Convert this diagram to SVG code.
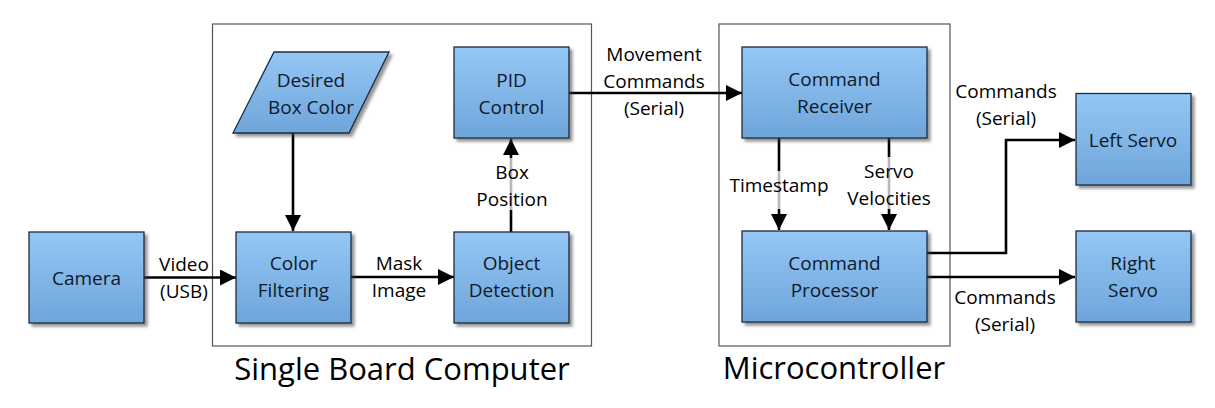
<svg xmlns="http://www.w3.org/2000/svg" width="1215" height="408" viewBox="0 0 1215 408">
<defs>
<linearGradient id="g" x1="0" y1="0" x2="0" y2="1">
<stop offset="0" stop-color="#95c7f5"/>
<stop offset="1" stop-color="#6ea5da"/>
</linearGradient>
<filter id="sh" x="-10%" y="-10%" width="130%" height="130%">
<feDropShadow dx="3" dy="3" stdDeviation="1.5" flood-color="#404040" flood-opacity="0.55"/>
</filter>
<marker id="ah" markerUnits="userSpaceOnUse" markerWidth="17" markerHeight="17" refX="16" refY="8" orient="auto" viewBox="0 0 17 17">
<path d="M0,0 L16,8 L0,16 z" fill="#000"/>
</marker>
<style>
.node{fill:url(#g);stroke:#1b2b40;stroke-width:1.3;filter:url(#sh)}
.frame{fill:none;stroke:#555;stroke-width:1.2}
.conn{fill:none;stroke:#000;stroke-width:2.6;marker-end:url(#ah)}
.t{font-family:"Open Sans","Noto Sans","Liberation Sans",sans-serif;font-size:19px;fill:#0d1a2b;text-anchor:middle}
.l{font-family:"Open Sans","Noto Sans","Liberation Sans",sans-serif;font-size:19px;fill:#000;text-anchor:middle}
.big{font-family:"Open Sans","Noto Sans","Liberation Sans",sans-serif;font-size:31px;fill:#000;text-anchor:middle}
.bg{fill:#fff;fill-opacity:0.72}
</style>
</defs>
<rect width="1215" height="408" fill="#fff"/>

<g id="frame-sbc">
<rect class="frame" x="212.5" y="24" width="379" height="322"/>
<text class="big" x="402" y="380">Single Board Computer</text>
</g>
<g id="frame-mcu">
<rect class="frame" x="719" y="24" width="231" height="322"/>
<text class="big" x="834" y="379">Microcontroller</text>
</g>

<g id="connectors">
<line class="conn" x1="144" y1="277.5" x2="236" y2="277.5"/>
<line class="conn" x1="293" y1="133" x2="293" y2="231"/>
<line class="conn" x1="351" y1="277" x2="454" y2="277"/>
<line class="conn" x1="511" y1="232" x2="511" y2="139"/>
<line class="conn" x1="569" y1="93" x2="742" y2="93"/>
<line class="conn" x1="779" y1="138" x2="779" y2="230"/>
<line class="conn" x1="889" y1="138" x2="889" y2="230"/>
<polyline class="conn" points="927,253 1006,253 1006,140 1075,140"/>
<line class="conn" x1="927" y1="277" x2="1075" y2="277"/>
</g>

<g id="connector-labels">
<text class="l" x="184" y="271">Video</text>
<text class="l" x="184" y="298">(USB)</text>
<text class="l" x="399" y="270">Mask</text>
<text class="l" x="399" y="297">Image</text>
<rect class="bg" x="480" y="158" width="64" height="52"/>
<text class="l" x="512" y="179">Box</text>
<text class="l" x="512" y="206">Position</text>
<text class="l" x="654" y="61">Movement</text>
<text class="l" x="654" y="88">Commands</text>
<text class="l" x="654" y="115">(Serial)</text>
<rect class="bg" x="733" y="171" width="92" height="38"/>
<text class="l" x="779" y="192">Timestamp</text>
<rect class="bg" x="838" y="157" width="102" height="52"/>
<text class="l" x="889" y="178">Servo</text>
<text class="l" x="889" y="205">Velocities</text>
<text class="l" x="1006" y="98">Commands</text>
<text class="l" x="1006" y="125">(Serial)</text>
<text class="l" x="1005" y="304">Commands</text>
<text class="l" x="1005" y="331">(Serial)</text>
</g>

<g id="camera">
<rect class="node" x="29" y="232" width="115" height="91"/>
<text class="t" x="86.5" y="284.5">Camera</text>
</g>
<g id="desired-box-color">
<polygon class="node" points="274,52 389,52 349,133 233,133"/>
<text class="t" x="311" y="87">Desired</text>
<text class="t" x="311" y="114">Box Color</text>
</g>
<g id="color-filtering">
<rect class="node" x="236" y="232" width="115" height="91"/>
<text class="t" x="293.5" y="270">Color</text>
<text class="t" x="293.5" y="297">Filtering</text>
</g>
<g id="object-detection">
<rect class="node" x="454" y="232" width="115" height="91"/>
<text class="t" x="511.5" y="270">Object</text>
<text class="t" x="511.5" y="297">Detection</text>
</g>
<g id="pid-control">
<rect class="node" x="454" y="47" width="115" height="91"/>
<text class="t" x="511.5" y="87">PID</text>
<text class="t" x="511.5" y="114">Control</text>
</g>
<g id="command-receiver">
<rect class="node" x="742" y="47" width="185" height="91"/>
<text class="t" x="834.5" y="86">Command</text>
<text class="t" x="834.5" y="113">Receiver</text>
</g>
<g id="command-processor">
<rect class="node" x="742" y="231" width="185" height="91"/>
<text class="t" x="834.5" y="270">Command</text>
<text class="t" x="834.5" y="297">Processor</text>
</g>
<g id="left-servo">
<rect class="node" x="1076" y="93.5" width="115" height="91.5"/>
<text class="t" x="1133" y="146.5">Left Servo</text>
</g>
<g id="right-servo">
<rect class="node" x="1076" y="231" width="115" height="91"/>
<text class="t" x="1133" y="270">Right</text>
<text class="t" x="1133" y="297">Servo</text>
</g>
</svg>
